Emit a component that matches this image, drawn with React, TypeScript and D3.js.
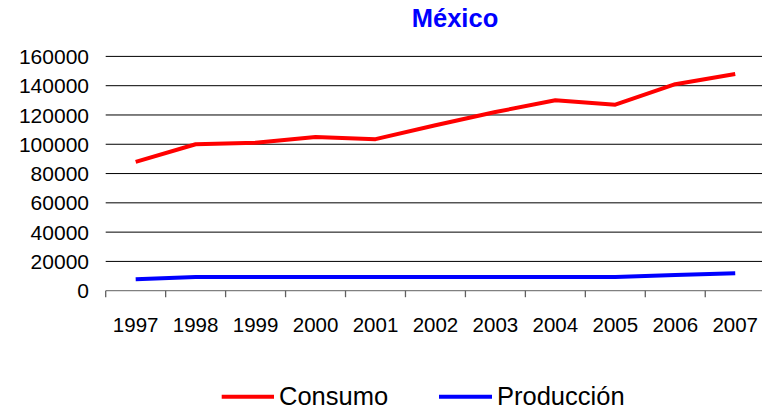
import React from "react";
import * as d3 from "d3";

const years = ["1997","1998","1999","2000","2001","2002","2003","2004","2005","2006","2007"];
const consumo = [88000, 100000, 101000, 105000, 103500, 113000, 122000, 130000, 127000, 141000, 148000];
const produccion = [7800, 9400, 9400, 9400, 9400, 9400, 9400, 9400, 9400, 10700, 12000];
const yTicks = [0, 20000, 40000, 60000, 80000, 100000, 120000, 140000, 160000];
const title = "México";
const seriesNames = ["Consumo", "Producción"];
const seriesColors = ["#ff0000", "#0000ff"];

export default function App() {
  const W = 762, H = 410;
  const x = d3.scaleBand<string>().domain(years).range([105.7, 765.2]);
  const y = d3.scaleLinear().domain([0, 160000]).range([290.7, 56.4]);
  const line = d3.line<number>()
    .x((_, i) => (x(years[i]) as number) + x.bandwidth() / 2)
    .y((d) => y(d));
  const font = "'Liberation Sans', Arial, sans-serif";
  const series = [consumo, produccion];
  return (
    <svg width={W} height={H} style={{ position: "absolute", left: 0, top: 0, background: "#fff" }} fontFamily={font}>
      <rect x={0} y={0} width={W} height={H} fill="#fff" />
      <text x={455} y={27} textAnchor="middle" fontSize={25.5} fontWeight="bold" fill="#0000ff">{title}</text>
      {yTicks.map((t) => (
        <g key={t}>
          {t !== 0 && <line x1={105.7} x2={W} y1={y(t)} y2={y(t)} stroke="#000" strokeWidth={1} />}
          <text x={89} y={y(t)} dy="0.36em" textAnchor="end" fontSize={21} fill="#000">{t}</text>
        </g>
      ))}
      <line x1={105.7} x2={W} y1={y(0)} y2={y(0)} stroke="#808080" strokeWidth={1.3} />
      {years.map((yr, i) => (
        <line key={"t" + yr} x1={(x(yr) as number)} x2={(x(yr) as number)} y1={y(0)} y2={y(0) + 6.5} stroke="#606060" strokeWidth={1.3} />
      ))}
      {years.map((yr) => (
        <text key={yr} x={(x(yr) as number) + x.bandwidth() / 2} y={331.5} textAnchor="middle" fontSize={20.5} fill="#000">{yr}</text>
      ))}
      {series.map((s, i) => (
        <path key={i} d={line(s) as string} fill="none" stroke={seriesColors[i]} strokeWidth={4} strokeLinejoin="round" />
      ))}
      <line x1={221.7} x2={274} y1={396.7} y2={396.7} stroke={seriesColors[0]} strokeWidth={4} />
      <text x={279} y={405} fontSize={25.5} fill="#000">{seriesNames[0]}</text>
      <line x1={439} x2={492} y1={396.7} y2={396.7} stroke={seriesColors[1]} strokeWidth={4} />
      <text x={497} y={405} fontSize={25.5} fill="#000">{seriesNames[1]}</text>
    </svg>
  );
}
